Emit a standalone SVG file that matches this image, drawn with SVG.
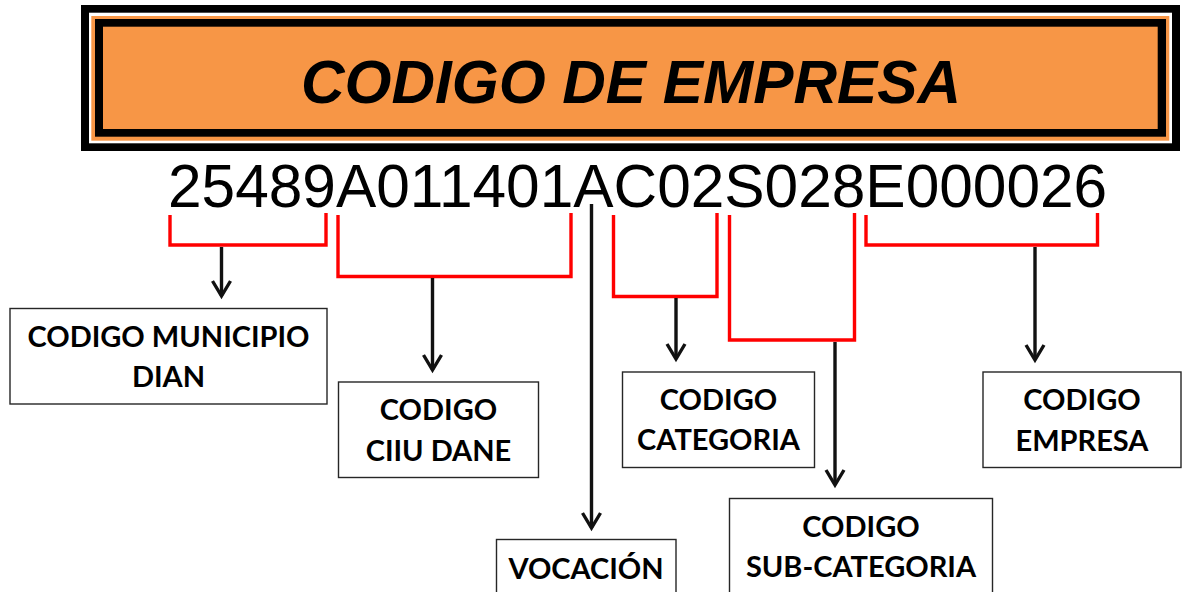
<svg xmlns="http://www.w3.org/2000/svg" width="1183" height="592" viewBox="0 0 1183 592">
  <defs>
    <style>
      .lbl { font-family: Lato, "Open Sans", "Liberation Sans", sans-serif; font-weight: bold; font-size: 29px; fill: #000; text-anchor: middle; }
      .box { fill: #fff; stroke: #262626; stroke-width: 1.4; }
      .br { fill: none; stroke: #ff0000; stroke-width: 3.4; stroke-linejoin: miter; }
      .ar { fill: none; stroke: #111; stroke-width: 3.4; marker-end: url(#chev); }
    </style>
    <marker id="chev" markerUnits="userSpaceOnUse" orient="auto" refX="0" refY="0" markerWidth="30" markerHeight="30" viewBox="-20 -15 25 30" overflow="visible">
      <path d="M-15,-9 L0,0 L-15,9" fill="none" stroke="#111" stroke-width="3.4" stroke-linejoin="miter"/>
    </marker>
  </defs>
  <rect width="1183" height="592" fill="#fff"/>

  <g id="title">
    <rect x="81" y="5" width="1099" height="146" fill="#000"/>
    <rect x="89" y="12.7" width="1083" height="130.6" fill="#fff"/>
    <rect x="91.3" y="16" width="1078" height="124.7" fill="#f79646"/>
    <rect x="95" y="19" width="1071" height="117.7" fill="#000"/>
    <rect x="103" y="26.7" width="1054.7" height="102.3" fill="#f79646"/>
    <text x="301" y="103" font-family="'Liberation Sans', Arial, sans-serif" font-weight="bold" font-style="italic" font-size="62" textLength="660" lengthAdjust="spacingAndGlyphs">CODIGO DE EMPRESA</text>
  </g>

  <g id="code">
    <text x="168" y="207" font-family="'Liberation Sans', Arial, sans-serif" font-size="60.4">25489A011401AC02S028E000026</text>
  </g>

  <g id="connectors">
    <path class="br" d="M170,215 V245 H326 V213"/>
    <path class="br" d="M338,215 V276.5 H571 V213"/>
    <path class="br" d="M613.5,215 V296.5 H717 V213"/>
    <path class="br" d="M729.5,215 V340 H854.5 V213"/>
    <path class="br" d="M866,215 V245 H1097.5 V213"/>
    <path class="ar" d="M221.5,247 V296"/>
    <path class="ar" d="M432.5,278 V370"/>
    <path class="ar" d="M591.5,204 V528"/>
    <path class="ar" d="M676,298 V359"/>
    <path class="ar" d="M835,342 V485"/>
    <path class="ar" d="M1035,247 V360"/>
  </g>

  <g id="n-municipio">
    <rect class="box" x="10" y="308.5" width="317" height="95.5"/>
    <text class="lbl" x="168.5" y="346.5">CODIGO MUNICIPIO</text>
    <text class="lbl" x="168.5" y="386.5">DIAN</text>
  </g>
  <g id="n-ciiu">
    <rect class="box" x="338.5" y="382" width="200" height="95.5"/>
    <text class="lbl" x="438.5" y="420">CODIGO</text>
    <text class="lbl" x="438.5" y="460.5">CIIU DANE</text>
  </g>
  <g id="n-vocacion">
    <rect class="box" x="496.5" y="539.5" width="179.5" height="60"/>
    <text class="lbl" x="586" y="579">VOCACIÓN</text>
  </g>
  <g id="n-categoria">
    <rect class="box" x="622.5" y="372" width="192" height="95.5"/>
    <text class="lbl" x="718.5" y="410">CODIGO</text>
    <text class="lbl" x="718.5" y="450">CATEGORIA</text>
  </g>
  <g id="n-subcategoria">
    <rect class="box" x="729.5" y="498.5" width="263" height="100"/>
    <text class="lbl" x="861" y="536.5">CODIGO</text>
    <text class="lbl" x="861" y="576.5">SUB-CATEGORIA</text>
  </g>
  <g id="n-empresa">
    <rect class="box" x="983" y="372" width="198" height="95.5"/>
    <text class="lbl" x="1082" y="410">CODIGO</text>
    <text class="lbl" x="1082" y="450.5">EMPRESA</text>
  </g>
</svg>
